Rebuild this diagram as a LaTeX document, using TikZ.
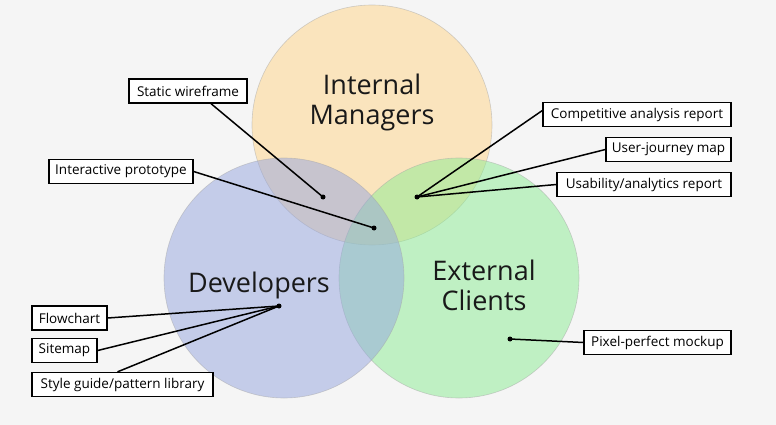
\documentclass[tikz,border=0pt]{standalone}
\usepackage{fontspec}
\setmainfont{Open Sans}
\definecolor{bgc}{HTML}{F5F5F5}
\definecolor{topc}{RGB}{255,213,135}
\definecolor{leftc}{RGB}{149,165,223}
\definecolor{rightc}{RGB}{139,237,147}
\begin{document}
\begin{tikzpicture}[x=1pt,y=-1pt,
  setc/.style={draw=black!35, line width=0.6pt, fill opacity=0.5, draw opacity=0.5},
  big/.style={font=\fontsize{27}{30}\selectfont, align=center, text=black!90},
  lbl/.style={draw=black, line width=1.3pt, fill=white, font=\fontsize{13.5}{15}\selectfont,
    minimum height=24pt, inner xsep=3pt, inner ysep=0pt},
  dotc/.style={circle, fill=black, inner sep=0pt, minimum size=5pt},
  conn/.style={line width=1.5pt, black}]
\useasboundingbox (0,0) rectangle (776,425);
\fill[bgc] (0,0) rectangle (776,425);
% circles
\fill[topc, setc] (372,125) circle[radius=120pt];
\fill[rightc, setc] (459,278) circle[radius=120pt];
\fill[leftc, setc] (284,278) circle[radius=120pt];
% big labels
\node[big] (im) at (372,102) {Internal\\Managers};
\node[big] (dev) at (259,285) {Developers};
\node[big] (ec) at (484,285) {External\\Clients};
% dots
\node[dotc] (d1) at (323,197) {};
\node[dotc] (d2) at (374,228) {};
\node[dotc] (d3) at (417,197) {};
\node[dotc] (d4) at (279,306) {};
\node[dotc] (d5) at (510,339) {};
% boxes
\node[lbl, minimum width=118pt] (sw) at (188,91) {Static wireframe};
\node[lbl, minimum width=144pt] (ip) at (121,171.5) {Interactive prototype};
\node[lbl, minimum width=188pt] (ca) at (637,114.5) {Competitive analysis report};
\node[lbl, minimum width=125pt] (uj) at (668.5,149.5) {User-journey map};
\node[lbl, minimum width=174pt] (ua) at (644,184.5) {Usability/analytics report};
\node[lbl, minimum width=75pt] (fc) at (69.5,318) {Flowchart};
\node[lbl, minimum width=65pt] (sm) at (64.5,350.5) {Sitemap};
\node[lbl, minimum width=181pt] (sg) at (122.5,384.5) {Style guide/pattern library};
\node[lbl, minimum width=147pt] (pp) at (657.5,342.5) {Pixel-perfect mockup};
% connectors
\draw[conn] ([xshift=23pt]sw.south) -- (d1.center);
\draw[conn] (ip.east) -- (d2.center);
\draw[conn] ([yshift=4pt]ca.west) -- (d3.center);
\draw[conn] (uj.west) -- (d3.center);
\draw[conn] (ua.west) -- (d3.center);
\draw[conn] (fc.east) -- (d4.center);
\draw[conn] (sm.east) -- (d4.center);
\draw[conn] ([xshift=-5pt]sg.north) -- (d4.center);
\draw[conn] (d5.center) -- (pp.west);
\end{tikzpicture}
\end{document}
